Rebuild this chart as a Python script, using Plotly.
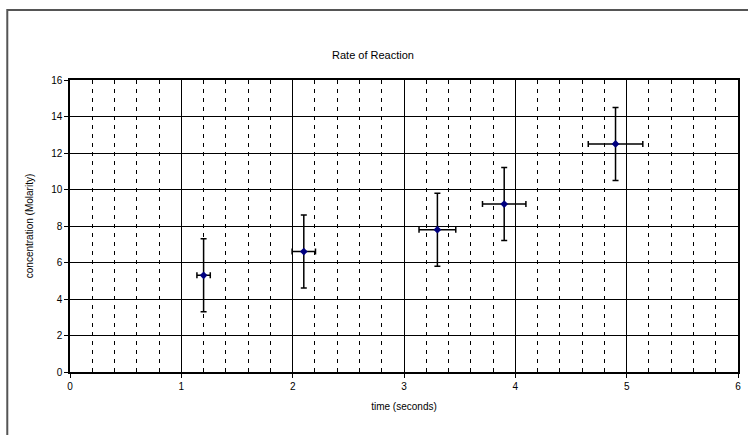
import plotly.graph_objects as go

time_s = [1.2, 2.1, 3.3, 3.9, 4.9]
conc = [5.3, 6.6, 7.8, 9.2, 12.5]
time_err = [0.06, 0.105, 0.165, 0.195, 0.245]
conc_err = [2, 2, 2, 2, 2]

W, H = 748, 435
L, R, T, B = 70, 7, 80, 63
pw, ph = W - L - R, H - T - B

def px_x(p):
    return (p - L) / pw

def px_y(p):
    return (H - B - p) / ph

font = dict(family="Liberation Sans, Arial, sans-serif", size=10, color="black")

fig = go.Figure()
fig.add_trace(go.Scatter(
    x=time_s, y=conc, mode="markers",
    marker=dict(symbol="diamond", size=6, color="#000080"),
    error_x=dict(type="data", array=time_err, visible=True, color="black", thickness=1.5, width=3),
    error_y=dict(type="data", array=conc_err, visible=True, color="black", thickness=1.5, width=3),
    showlegend=False,
))

axis_common = dict(
    showline=True, linecolor="black", linewidth=1.5, mirror=True,
    showgrid=True, gridcolor="black", gridwidth=1.2,
    ticks="outside", ticklen=4, tickcolor="black", tickwidth=1.2,
    zeroline=False, tickfont=font,
)

fig.update_layout(
    width=W, height=H,
    margin=dict(l=L, r=R, t=T, b=B),
    paper_bgcolor="white", plot_bgcolor="white",
    font=font,
    xaxis=dict(range=[0, 6], dtick=1, tick0=0,
               title=dict(text="time (seconds)", font=font, standoff=12),
               minor=dict(dtick=0.2, showgrid=True, gridcolor="black", gridwidth=1.2,
                          griddash="4px,5px"),
               **axis_common),
    yaxis=dict(range=[0, 16], dtick=2, tick0=0,
               title=dict(text="concentration (Molarity)", font=font, standoff=16),
               **axis_common),
    title=dict(text="Rate of Reaction", x=373 / W, xanchor="center",
               y=1 - 55 / H, yanchor="middle", font=dict(family=font["family"], size=11, color="black")),
)

fig.add_shape(type="rect", xref="paper", yref="paper",
              x0=px_x(7), x1=px_x(W + 20), y0=px_y(H + 20), y1=px_y(10),
              line=dict(color="#555555", width=2), layer="above")

fig.write_html("out.html", config={"displayModeBar": False},
               post_script="document.body.style.margin='0';document.body.style.overflow='hidden';")
